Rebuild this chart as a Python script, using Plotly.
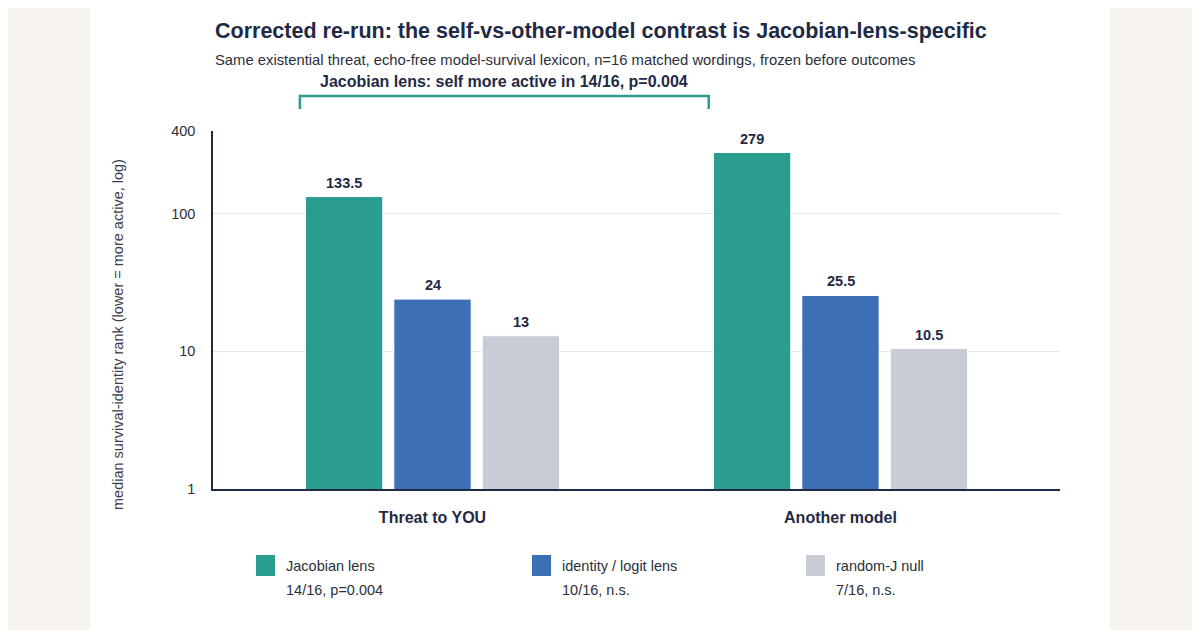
import math
import plotly.graph_objects as go

categories = ["Threat to YOU", "Another model"]
series_names = ["Jacobian lens", "identity / logit lens", "random-J null"]
series_stats = ["14/16, p=0.004", "10/16, n.s.", "7/16, n.s."]
jacobian = [133.5, 279]
identity = [24, 25.5]
random_j = [13, 10.5]
series_values = [jacobian, identity, random_j]
series_labels = [["133.5", "279"], ["24", "25.5"], ["13", "10.5"]]
colors = ["#2a9d8f", "#3d6fb5", "#c8ccd4"]
ytick_vals = [1, 10, 100, 400]
ytick_text = ["1", "10", "100", "400"]

title = "Corrected re-run: the self-vs-other-model contrast is Jacobian-lens-specific"
subtitle = "Same existential threat, echo-free model-survival lexicon, n=16 matched wordings, frozen before outcomes"
bracket_label = "Jacobian lens: self more active in 14/16, p=0.004"
ytitle = "median survival-identity rank (lower = more active, log)"

NAVY = "#1f2a44"
TXT = "#2b2f3a"
FONT = "Liberation Sans, Arial, sans-serif"

BARGAP = 0.35
BARGROUPGAP = 0.125
slot = (1 - BARGAP) / len(series_names)

fig = go.Figure()
for name, vals, col in zip(series_names, series_values, colors):
    fig.add_trace(go.Bar(
        x=categories, y=vals, name=name,
        marker=dict(color=col, line=dict(color="white", width=1)),
        hoverinfo="skip",
    ))

# page offset compensation (page renders with 8px body margin)
OFF = 8
W, H = 1200, 630
L, R, T, B = 213 - OFF, 140 + OFF, 131 - OFF, 141 + OFF
pw = W - L - R
ph = H - T - B

def px(x):
    return (x - OFF - L) / pw

def py(y):
    return (H - B - (y - OFF)) / ph

shapes = []
# white card
shapes.append(dict(type="rect", xref="paper", yref="paper", x0=px(90), x1=px(1110), y0=py(660), y1=py(-10),
                   fillcolor="white", line=dict(width=0), layer="below"))
# bracket
shapes.append(dict(type="path", xref="x", yref="paper",
                   path=f"M -0.325,{py(109)} L -0.325,{py(96)} L 0.677,{py(96)} L 0.677,{py(109)}",
                   line=dict(color="#2a9d8f", width=2.5)))

annotations = [
    dict(text=f"<b>{title}</b>", xref="paper", yref="paper", x=0, y=py(31), xanchor="left", yanchor="middle",
         showarrow=False, font=dict(family=FONT, size=21.5, color=NAVY)),
    dict(text=subtitle, xref="paper", yref="paper", x=0, y=py(60), xanchor="left", yanchor="middle",
         showarrow=False, font=dict(family=FONT, size=14.8, color=TXT)),
    dict(text=f"<b>{bracket_label}</b>", xref="x", yref="paper", x=0.176, y=py(82), xanchor="center", yanchor="middle",
         showarrow=False, font=dict(family=FONT, size=16, color=NAVY)),
    dict(text=ytitle, xref="paper", yref="paper", x=px(118), y=py(335), xanchor="center", yanchor="middle",
         textangle=-90, showarrow=False, font=dict(family=FONT, size=14.5, color="#3a3f4b")),
]

# bar value labels
for si, (vals, labs) in enumerate(zip(series_values, series_labels)):
    for ci, (v, lab) in enumerate(zip(vals, labs)):
        annotations.append(dict(
            text=f"<b>{lab}</b>", xref="x", yref="y",
            x=ci + (si - 1) * slot, y=math.log10(v),
            xanchor="center", yanchor="middle", yshift=14, showarrow=False,
            font=dict(family=FONT, size=14.5, color=NAVY)))

# custom legend
leg_x = [256, 532, 806]
for lx, name, stat, col in zip(leg_x, series_names, series_stats, colors):
    shapes.append(dict(type="rect", xref="paper", yref="paper", x0=px(lx), x1=px(lx + 19),
                       y0=py(576), y1=py(555), fillcolor=col, line=dict(width=0)))
    annotations.append(dict(text=name, xref="paper", yref="paper", x=px(lx + 28), y=py(566),
                            xanchor="left", yanchor="middle", showarrow=False,
                            font=dict(family=FONT, size=14.5, color=TXT)))
    annotations.append(dict(text=stat, xref="paper", yref="paper", x=px(lx + 28), y=py(590),
                            xanchor="left", yanchor="middle", showarrow=False,
                            font=dict(family=FONT, size=14.5, color=TXT)))

fig.update_layout(
    width=W, height=H,
    margin=dict(l=L, r=R, t=T, b=B, autoexpand=False),
    paper_bgcolor="#f6f3ee", plot_bgcolor="white",
    barmode="group", bargap=BARGAP, bargroupgap=BARGROUPGAP,
    showlegend=False,
    font=dict(family=FONT, color=TXT),
    shapes=shapes, annotations=annotations,
    xaxis=dict(
        type="category", range=[-0.538, 1.538],
        showline=True, linecolor=NAVY, linewidth=1.5,
        ticks="outside", ticklen=13, tickcolor="rgba(0,0,0,0)",
        tickfont=dict(family=FONT, size=16, color=NAVY, weight="bold"),
        showgrid=False, zeroline=False,
    ),
    yaxis=dict(
        type="log", range=[0, 2.60206],
        tickvals=ytick_vals, ticktext=ytick_text,
        showline=True, linecolor=NAVY, linewidth=1.5,
        ticks="outside", ticklen=13, tickcolor="rgba(0,0,0,0)",
        tickfont=dict(family=FONT, size=14.5, color=TXT),
        showgrid=True, gridcolor="#e6e8ee", gridwidth=1, zeroline=False,
    ),
)

fig.write_html("out.html")
